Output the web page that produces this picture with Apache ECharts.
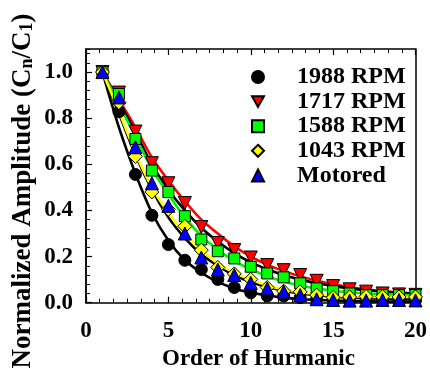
<!DOCTYPE html>
<html><head><meta charset="utf-8">
<script src="https://cdn.jsdelivr.net/npm/echarts@6/dist/echarts.min.js"></script>
<style>html,body{margin:0;padding:0;background:#fff}#c{width:430px;height:374px}</style>
</head><body><div id="c"></div>
<script>
// ---- data ----
const orders = [1,2,3,4,5,6,7,8,9,10,11,12,13,14,15,16,17,18,19,20];
const rpm1988 = [1.0,0.828,0.556,0.379,0.252,0.184,0.144,0.101,0.066,0.043,0.029,0.029,0.022,0.015,0.012,0.010,0.010,0.010,0.010,0.010];
const rpm1717 = [1.0,0.911,0.742,0.605,0.518,0.432,0.328,0.259,0.228,0.196,0.163,0.141,0.120,0.095,0.072,0.058,0.048,0.040,0.036,0.034];
const rpm1588 = [1.0,0.905,0.710,0.573,0.480,0.375,0.274,0.223,0.192,0.156,0.127,0.110,0.084,0.062,0.050,0.040,0.033,0.033,0.033,0.033];
const rpm1043 = [1.0,0.868,0.634,0.480,0.405,0.331,0.228,0.153,0.125,0.101,0.066,0.050,0.047,0.033,0.023,0.025,0.027,0.026,0.025,0.025];
const motored = [1.0,0.890,0.674,0.518,0.420,0.300,0.196,0.144,0.120,0.086,0.062,0.048,0.033,0.015,0.012,0.009,0.009,0.012,0.012,0.010];
// fitted curves
const fit1988 = [1.0,0.76,0.56,0.39,0.27,0.185,0.13,0.09,0.062,0.044,0.031,0.022,0.016,0.012,0.009,0.007,0.006,0.005,0.005,0.005];
const fit1717 = [1.0,0.88,0.76,0.63,0.53,0.44,0.36,0.30,0.245,0.20,0.165,0.137,0.115,0.095,0.08,0.068,0.058,0.05,0.044,0.04];
const fitMid  = [1.0,0.87,0.74,0.60,0.49,0.40,0.325,0.265,0.215,0.175,0.145,0.12,0.10,0.085,0.072,0.062,0.054,0.048,0.043,0.04];
const fit1588 = [1.0,0.86,0.72,0.58,0.47,0.37,0.29,0.23,0.18,0.145,0.115,0.092,0.075,0.062,0.052,0.045,0.04,0.036,0.034,0.033];
const fit1043 = [1.0,0.83,0.65,0.50,0.39,0.30,0.23,0.17,0.13,0.10,0.075,0.058,0.045,0.037,0.031,0.028,0.026,0.025,0.025,0.025];
const fitMot  = [1.0,0.82,0.64,0.49,0.37,0.28,0.21,0.16,0.12,0.09,0.068,0.052,0.04,0.032,0.026,0.022,0.02,0.018,0.017,0.016];
const seriesNames = ['1988 RPM','1717 RPM','1588 RPM','1043 RPM','Motored'];
const xTickLabels = ['0','5','10','15','20'];
const yTickLabels = ['0.0','0.2','0.4','0.6','0.8','1.0'];

const FONT = 'Liberation Serif';
const pair = arr => orders.map((n,i)=>[n,arr[i]]);
const downTri = 'path://M0,0L20,0L10,18Z';

function fitLine(arr,color){
  return {type:'line',data:pair(arr),smooth:0.35,showSymbol:false,silent:true,z:2,
    lineStyle:{color:color,width:2.6},legendHoverLink:false};
}
function pts(name,arr,symbol,color,size){
  return {type:'scatter',name:name,data:pair(arr),symbol:symbol,symbolSize:size,z:3,
    itemStyle:{color:color,borderColor:'#000',borderWidth:1,opacity:1}};
}

const axisBase = {
  axisLine:{show:true,onZero:false,lineStyle:{color:'#000',width:1.5}},
  splitLine:{show:false}
};
const labelStyle = {color:'#000',fontFamily:FONT,fontWeight:'bold',fontSize:23};

const chart = echarts.init(document.getElementById('c'),null,{renderer:'canvas'});
chart.setOption({
  animation:false,
  backgroundColor:'#fff',
  grid:{left:86,right:11,top:49,bottom:71.3,containLabel:false},
  xAxis:[
    Object.assign({type:'value',min:0,max:20,interval:5,position:'bottom',
      axisTick:{show:true,inside:true,length:6,lineStyle:{color:'#000',width:1.2}},
      minorTick:{show:true,splitNumber:6,length:4,lineStyle:{color:'#000',width:1}},
      axisLabel:Object.assign({margin:17,formatter:(v)=>xTickLabels[xTickLabels.indexOf(String(v))]||''},labelStyle)},axisBase),
    Object.assign({type:'value',min:0,max:20,interval:5,position:'top',
      axisTick:{show:true,inside:true,length:6,lineStyle:{color:'#000',width:1.2}},
      minorTick:{show:true,splitNumber:6,length:4,lineStyle:{color:'#000',width:1}},
      axisLabel:{show:false}},axisBase)
  ],
  yAxis:[
    Object.assign({type:'value',min:0,max:1.1,interval:0.2,position:'left',
      axisTick:{show:true,inside:true,length:6,lineStyle:{color:'#000',width:1.2}},
      axisLabel:Object.assign({margin:13,showMaxLabel:false,
        formatter:(v)=>{const s=v.toFixed(1);return yTickLabels.indexOf(s)>=0?s:'';}},labelStyle)},axisBase),
    Object.assign({type:'value',min:0,max:1.1,interval:0.04,position:'left',
      axisTick:{show:true,inside:true,length:4,lineStyle:{color:'#000',width:1}},
      axisLabel:{show:false}},axisBase),
    Object.assign({type:'value',min:0,max:1.1,position:'right',
      axisTick:{show:false},axisLabel:{show:false}},axisBase)
  ],
  legend:{
    data:seriesNames,orient:'vertical',left:251,top:65,padding:0,itemWidth:12,itemHeight:12,itemGap:0.6,
    textStyle:{color:'#000',fontFamily:FONT,fontWeight:'bold',fontSize:24,lineHeight:23,padding:[0,0,0,28]},
    selectedMode:false
  },
  graphic:[
    {type:'text',left:162,top:348,style:{text:'Order of Hurmanic',font:'bold 23px "Liberation Serif"',fill:'#000'}},
    {type:'text',x:23,y:191,rotation:Math.PI/2,
      style:{text:'Normalized Amplitude (C{s|n}/C{s|1})',
        rich:{s:{fontSize:18,fontFamily:FONT,fontWeight:'bold',fill:'#000',verticalAlign:'bottom',padding:[9,0,0,0]}},
        font:'bold 27px "Liberation Serif"',fill:'#000',align:'center',verticalAlign:'middle'}}
  ],
  series:[
    fitLine(fit1988,'#000'),
    fitLine(fit1717,'#ff0000'),
    fitLine(fitMid,'#000'),
    fitLine(fit1588,'#00ee00'),
    fitLine(fitMot,'#000'),
    fitLine(fit1043,'#ffff00'),
    pts(seriesNames[0],rpm1988,'circle','#000',12),
    pts(seriesNames[1],rpm1717,downTri,'#ff0000',13),
    pts(seriesNames[2],rpm1588,'rect','#00ff00',11),
    pts(seriesNames[3],rpm1043,'diamond','#ffff00',14),
    pts(seriesNames[4],motored,'triangle','#0000ff',13)
  ]
});
</script></body></html>
